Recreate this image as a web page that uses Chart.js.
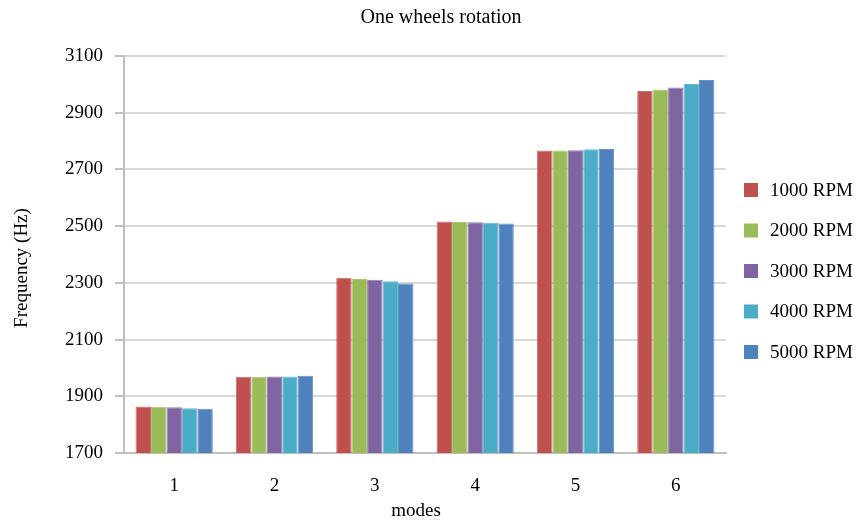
<!DOCTYPE html>
<html>
<head>
<meta charset="utf-8">
<script src="https://cdn.jsdelivr.net/npm/chart.js@4/dist/chart.umd.min.js"></script>
<style>
  html, body { margin: 0; padding: 0; background: #fff; }
  #wrap { width: 858px; height: 522px; }
</style>
</head>
<body>
<div id="wrap"><canvas id="c" width="858" height="522"></canvas></div>
<script>
// Natural frequencies of the first six modes at different wheel speeds
const modes = ['1', '2', '3', '4', '5', '6'];
const rpm1000 = [1864, 1969, 2318, 2516, 2767, 2977];
const rpm2000 = [1863, 1969, 2314, 2515, 2767, 2982];
const rpm3000 = [1861, 1970, 2311, 2514, 2768, 2989];
const rpm4000 = [1858, 1970, 2306, 2512, 2771, 3001];
const rpm5000 = [1856, 1972, 2298, 2509, 2772, 3015];
const seriesNames = ['1000 RPM', '2000 RPM', '3000 RPM', '4000 RPM', '5000 RPM'];
const yTicks = [1700, 1900, 2100, 2300, 2500, 2700, 2900, 3100];

const colors = ['#C0504D', '#9BBB59', '#8064A2', '#4BACC6', '#4F81BD'];
const edges  = ['#CB706D', '#AAC573', '#9179B0', '#66B9CF', '#6892C6'];
const serif = '"Liberation Serif", "Times New Roman", serif';

const seriesData = [rpm1000, rpm2000, rpm3000, rpm4000, rpm5000];
const datasets = seriesData.map((d, i) => ({
  label: seriesNames[i],
  data: d,
  backgroundColor: colors[i],
  borderColor: edges[i],
  borderWidth: 1,
  categoryPercentage: 0.77,
  barPercentage: 1.0
}));

// Title, axis titles and legend drawn at fixed spots around the plot
const decorations = {
  id: 'decorations',
  afterDraw(chart) {
    const ctx = chart.ctx;
    ctx.save();
    ctx.fillStyle = '#000';
    ctx.textBaseline = 'middle';

    ctx.font = '20px ' + serif;
    ctx.textAlign = 'center';
    ctx.fillText('One wheels rotation', 441, 18);

    ctx.font = '19px ' + serif;
    ctx.fillText('modes', 416, 511);

    ctx.save();
    ctx.translate(22, 268);
    ctx.rotate(-Math.PI / 2);
    ctx.fillText('Frequency (Hz)', 0, 0);
    ctx.restore();

    ctx.textAlign = 'left';
    chart.data.datasets.forEach((ds, i) => {
      const cy = 190 + i * 40.5;
      ctx.fillStyle = ds.backgroundColor;
      ctx.fillRect(744, cy - 7, 14, 14);
      ctx.fillStyle = '#000';
      ctx.fillText(ds.label, 770, cy + 1);
    });
    ctx.restore();
  }
};

new Chart(document.getElementById('c'), {
  type: 'bar',
  data: { labels: modes, datasets },
  plugins: [decorations],
  options: {
    responsive: false,
    animation: false,
    devicePixelRatio: 1,
    layout: { padding: { top: 56, right: 132, left: 0, bottom: 0 } },
    plugins: {
      legend: { display: false },
      title: { display: false },
      tooltip: { enabled: false }
    },
    scales: {
      x: {
        grid: { display: false },
        border: { color: '#bfbfbf', width: 2 },
        ticks: { color: '#000', font: { family: serif, size: 19 }, padding: 14 },
        afterFit(scale) { scale.height = 69; }
      },
      y: {
        min: 1700,
        max: 3100,
        afterBuildTicks(scale) { scale.ticks = yTicks.map(v => ({ value: v })); },
        grid: { color: '#d9d9d9', lineWidth: 2, tickLength: 9, tickColor: '#bfbfbf' },
        border: { color: '#bfbfbf', width: 2 },
        ticks: {
          color: '#000',
          font: { family: serif, size: 19 },
          padding: 12,
          callback: v => String(v)
        },
        afterFit(scale) { scale.width = 124; }
      }
    }
  }
});
</script>
</body>
</html>
